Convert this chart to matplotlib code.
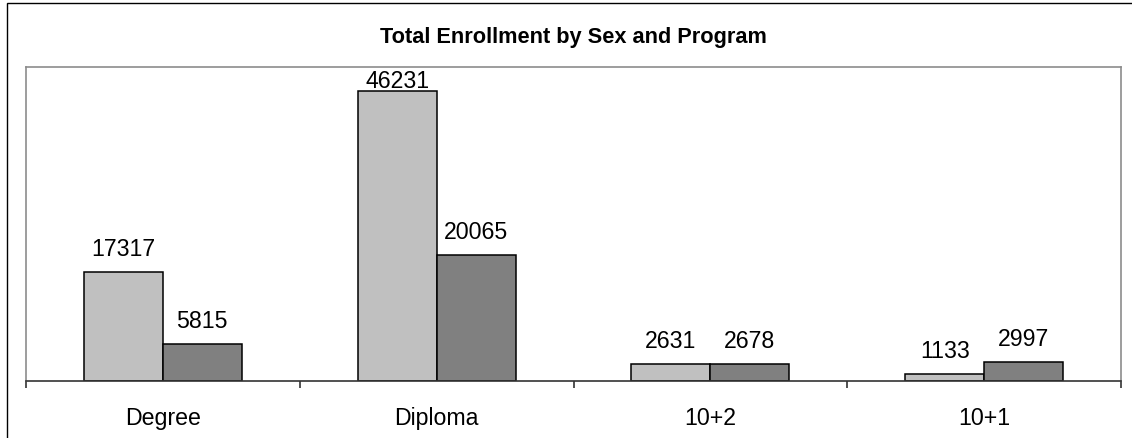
import matplotlib
matplotlib.use("Agg")
import matplotlib.pyplot as plt
from matplotlib.patches import Rectangle
import numpy as np

plt.rcParams['font.family'] = ['Liberation Sans', 'DejaVu Sans']

title = "Total Enrollment by Sex and Program"
categories = ["Degree", "Diploma", "10+2", "10+1"]
series_a = [17317, 46231, 2631, 1133]   # light bars
series_b = [5815, 20065, 2678, 2997]    # dark bars
ymax = 50000

W, H = 1132, 439
fig = plt.figure(figsize=(W / 100, H / 100), dpi=100)
fig.patch.set_facecolor("white")

# figure border (only top/left visible in reference)
fig.patches.append(Rectangle((7 / W, -0.5), 2.0, (H - 4) / H + 0.5,
                             transform=fig.transFigure, fill=False,
                             edgecolor="black", linewidth=1.0, clip_on=False))

ax_left, ax_right = 26 / W, 1121 / W
ax_top_px, ax_bot_px = 68, 381.7
ax = fig.add_axes([ax_left, 1 - ax_bot_px / H, ax_right - ax_left,
                   (ax_bot_px - ax_top_px) / H])

x = np.arange(len(categories))
bw = 79 / 274
bars_a = ax.bar(x - bw / 2, series_a, width=bw, color="#C0C0C0",
                edgecolor="black", linewidth=1.1, zorder=3)
bars_b = ax.bar(x + bw / 2, series_b, width=bw, color="#808080",
                edgecolor="black", linewidth=1.1, zorder=3)

ax.set_xlim(-0.5, len(categories) - 0.5)
ax.set_ylim(0, ymax)
ax.set_yticks([])

ax.set_xticks(x)
ax.set_xticklabels(categories, fontsize=16.7)
ax.tick_params(axis="x", which="major", length=0, pad=18.5)
ax.set_xticks(np.arange(len(categories) + 1) - 0.5, minor=True)
ax.tick_params(axis="x", which="minor", length=5.2, width=1.2,
               color="#333333", direction="out")

for side in ["top", "left", "right"]:
    ax.spines[side].set_color("#8c8c8c")
    ax.spines[side].set_linewidth(1.2)
ax.spines["bottom"].set_color("#333333")
ax.spines["bottom"].set_linewidth(1.2)
ax.spines["bottom"].set_zorder(4)

plot_h_px = ax_bot_px - ax_top_px
for bars, vals in ((bars_a, series_a), (bars_b, series_b)):
    for b, v in zip(bars, vals):
        h_px = v / ymax * plot_h_px
        off = min(17, plot_h_px - h_px - 20)
        ax.annotate(f"{v}", xy=(b.get_x() + b.get_width() / 2, v),
                    xytext=(0, off), textcoords="offset pixels",
                    ha="center", va="baseline", fontsize=16.7,
                    annotation_clip=False)

fig.text((26 + 1121) / 2 / W, 1 - 42.7 / H, title, ha="center",
         va="baseline", fontsize=15.7, fontweight="bold")

fig.savefig("out.png", dpi=100, facecolor="white")
